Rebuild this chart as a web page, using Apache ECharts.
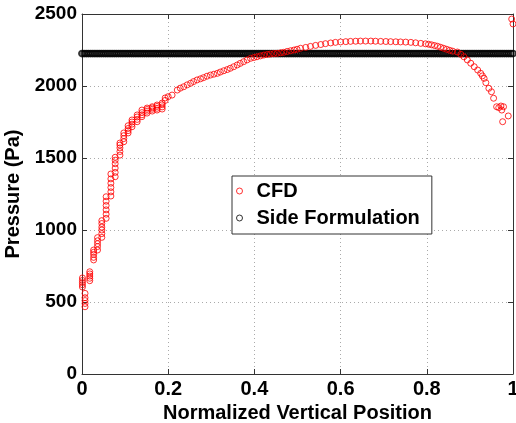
<!DOCTYPE html>
<html>
<head>
<meta charset="utf-8">
<script src="https://cdn.jsdelivr.net/npm/echarts@6/dist/echarts.min.js"></script>
<style>
  html, body { margin: 0; padding: 0; background: #fff; }
  #chart { width: 516px; height: 423px; }
</style>
</head>
<body>
<div id="chart"></div>
<script>
// CFD pressure samples (x = normalized vertical position, p = pressure in Pa)
var cfdX = [
  0.001, 0.001, 0.001, 0.001, 0.001,
  0.007, 0.007, 0.007, 0.007, 0.007,
  0.018, 0.018, 0.018, 0.018, 0.018,
  0.027, 0.027, 0.027, 0.027, 0.027,
  0.036, 0.036, 0.036, 0.036, 0.036,
  0.046, 0.046, 0.046, 0.046, 0.046, 0.046,
  0.056, 0.056, 0.056, 0.056, 0.056, 0.056,
  0.067, 0.067, 0.067, 0.067, 0.067, 0.067,
  0.077, 0.077, 0.077, 0.077, 0.077, 0.077,
  0.088, 0.088, 0.088, 0.088, 0.088,
  0.097, 0.097, 0.097, 0.097,
  0.107, 0.107, 0.107, 0.107,
  0.116, 0.116, 0.116, 0.116,
  0.128, 0.128, 0.128, 0.128,
  0.139, 0.139, 0.139, 0.139,
  0.151, 0.151, 0.151, 0.151,
  0.163, 0.163, 0.163, 0.163,
  0.174, 0.174, 0.174, 0.174,
  0.186, 0.186, 0.186, 0.186,
  0.193, 0.193, 0.200, 0.209,
  0.221, 0.228, 0.236, 0.244, 0.252, 0.259, 0.267, 0.275, 0.282, 0.290,
  0.298, 0.306, 0.314, 0.321, 0.329, 0.337, 0.344, 0.352, 0.360, 0.367,
  0.375, 0.383, 0.391, 0.399, 0.406, 0.414, 0.422, 0.430, 0.437, 0.445,
  0.453, 0.461, 0.468, 0.476, 0.484, 0.492, 0.499, 0.507, 0.519, 0.530,
  0.542, 0.554, 0.565, 0.577, 0.588, 0.600, 0.612, 0.623, 0.635, 0.646,
  0.658, 0.670, 0.681, 0.693, 0.705, 0.716, 0.728, 0.739, 0.751, 0.763,
  0.774, 0.786, 0.797, 0.804, 0.811, 0.818, 0.825, 0.832, 0.839, 0.846,
  0.853, 0.860, 0.871, 0.879, 0.886, 0.894, 0.902, 0.910, 0.918, 0.925,
  0.929, 0.933, 0.937, 0.944, 0.950, 0.955, 0.962, 0.967, 0.972, 0.974,
  0.978, 0.976, 0.989, 0.997, 1.000
];
var cfdP = [
  604, 620, 635, 650, 667,
  467, 490, 510, 530, 560,
  648, 665, 680, 695, 710,
  792, 810, 830, 845, 861,
  861, 885, 905, 925, 947,
  949, 975, 1000, 1020, 1045, 1065,
  1081, 1110, 1140, 1170, 1200, 1231,
  1236, 1265, 1295, 1325, 1355, 1389,
  1370, 1400, 1430, 1460, 1485, 1505,
  1520, 1545, 1570, 1590, 1604,
  1613, 1635, 1655, 1674,
  1674, 1690, 1705, 1724,
  1717, 1735, 1750, 1764,
  1752, 1768, 1785, 1799,
  1787, 1800, 1815, 1833,
  1812, 1825, 1837, 1847,
  1826, 1838, 1848, 1856,
  1833, 1845, 1858, 1868,
  1840, 1855, 1870, 1882,
  1900, 1917, 1926, 1937,
  1972, 1985, 1995, 2008, 2019, 2031, 2042, 2050, 2058, 2068,
  2076, 2082, 2088, 2097, 2106, 2114, 2123, 2134, 2146, 2157,
  2169, 2181, 2192, 2198, 2203, 2209, 2215, 2219, 2222, 2225,
  2227, 2231, 2234, 2240, 2245, 2250, 2255, 2262, 2268, 2275,
  2282, 2288, 2294, 2299, 2303, 2306, 2308, 2310, 2311, 2312,
  2312, 2312, 2311, 2310, 2309, 2308, 2307, 2306, 2305, 2303,
  2300, 2296, 2293, 2290, 2286, 2281, 2276, 2269, 2262, 2255,
  2248, 2242, 2236, 2220, 2203, 2181, 2158, 2134, 2111, 2088,
  2070, 2053, 2023, 1984, 1960, 1915, 1856, 1850, 1861, 1833,
  1856, 1752, 1792, 2465, 2431
];

// Side formulation: constant pressure sampled along the height
var SIDE_P = 2225;
var sideX = [
  0.000, 0.005, 0.010, 0.015, 0.020, 0.025, 0.030, 0.035, 0.040, 0.045,
  0.050, 0.055, 0.060, 0.065, 0.070, 0.075, 0.080, 0.085, 0.090, 0.095,
  0.100, 0.105, 0.110, 0.115, 0.120, 0.125, 0.130, 0.135, 0.140, 0.145,
  0.150, 0.155, 0.160, 0.165, 0.170, 0.175, 0.180, 0.185, 0.190, 0.195,
  0.200, 0.205, 0.210, 0.215, 0.220, 0.225, 0.230, 0.235, 0.240, 0.245,
  0.250, 0.255, 0.260, 0.265, 0.270, 0.275, 0.280, 0.285, 0.290, 0.295,
  0.300, 0.305, 0.310, 0.315, 0.320, 0.325, 0.330, 0.335, 0.340, 0.345,
  0.350, 0.355, 0.360, 0.365, 0.370, 0.375, 0.380, 0.385, 0.390, 0.395,
  0.400, 0.405, 0.410, 0.415, 0.420, 0.425, 0.430, 0.435, 0.440, 0.445,
  0.450, 0.455, 0.460, 0.465, 0.470, 0.475, 0.480, 0.485, 0.490, 0.495,
  0.500, 0.505, 0.510, 0.515, 0.520, 0.525, 0.530, 0.535, 0.540, 0.545,
  0.550, 0.555, 0.560, 0.565, 0.570, 0.575, 0.580, 0.585, 0.590, 0.595,
  0.600, 0.605, 0.610, 0.615, 0.620, 0.625, 0.630, 0.635, 0.640, 0.645,
  0.650, 0.655, 0.660, 0.665, 0.670, 0.675, 0.680, 0.685, 0.690, 0.695,
  0.700, 0.705, 0.710, 0.715, 0.720, 0.725, 0.730, 0.735, 0.740, 0.745,
  0.750, 0.755, 0.760, 0.765, 0.770, 0.775, 0.780, 0.785, 0.790, 0.795,
  0.800, 0.805, 0.810, 0.815, 0.820, 0.825, 0.830, 0.835, 0.840, 0.845,
  0.850, 0.855, 0.860, 0.865, 0.870, 0.875, 0.880, 0.885, 0.890, 0.895,
  0.900, 0.905, 0.910, 0.915, 0.920, 0.925, 0.930, 0.935, 0.940, 0.945,
  0.950, 0.955, 0.960, 0.965, 0.970, 0.975, 0.980, 0.985, 0.990, 0.995,
  1.000
];

var seriesNames = ['CFD', 'Side Formulation'];
var xTicks = { min: 0, max: 1, interval: 0.2 };
var yTicks = { min: 0, max: 2500, interval: 500 };

var myChart = echarts.init(document.getElementById('chart'));

var FONT = 'Liberation Sans';
var FONT_SIZE = 20;
var axisColor = '#333';

var cfdData = cfdX.map(function(x, i) { return [x, cfdP[i]]; });
var sideData = sideX.map(function(x) { return [x, SIDE_P]; });

var option = {
  animation: false,
  backgroundColor: '#fff',
  grid: {
    left: 82,
    right: 3,
    top: 14,
    bottom: 49,
    containLabel: false,
    outerBoundsMode: 'none'
  },
  legend: {
    orient: 'vertical',
    left: 232,
    top: 176,
    padding: [5, 12, 6, 4],
    itemGap: 7,
    itemWidth: 24,
    itemHeight: 6,
    backgroundColor: '#fff',
    borderColor: '#333',
    borderWidth: 1,
    borderRadius: 0,
    textStyle: {
      fontFamily: FONT,
      fontWeight: 'bold',
      fontSize: FONT_SIZE,
      color: '#000'
    },
    data: [
      { name: seriesNames[0], icon: 'circle', itemStyle: { color: 'transparent', borderColor: '#ff0000', borderWidth: 1 } },
      { name: seriesNames[1], icon: 'circle', itemStyle: { color: 'transparent', borderColor: '#000', borderWidth: 1 } }
    ]
  },
  xAxis: [{
    type: 'value',
    min: xTicks.min,
    max: xTicks.max,
    interval: xTicks.interval,
    name: 'Normalized Vertical Position',
    nameLocation: 'middle',
    nameGap: 26,
    nameTextStyle: { fontFamily: FONT, fontWeight: 'bold', fontSize: FONT_SIZE, color: '#000' },
    axisLine: { show: true, lineStyle: { color: axisColor, width: 1 } },
    axisTick: { show: true, inside: true, length: 5, lineStyle: { color: axisColor } },
    axisLabel: { margin: 5, fontFamily: FONT, fontWeight: 'bold', fontSize: FONT_SIZE, color: '#000' },
    splitLine: { show: true, lineStyle: { color: '#aaa', type: [1, 3], width: 1 } }
  }, {
    // top edge of the box
    type: 'value',
    position: 'top',
    min: xTicks.min,
    max: xTicks.max,
    interval: xTicks.interval,
    axisLine: { show: true, onZero: false, lineStyle: { color: axisColor, width: 1 } },
    axisTick: { show: true, inside: true, length: 5, lineStyle: { color: axisColor } },
    axisLabel: { show: false },
    splitLine: { show: false }
  }],
  yAxis: [{
    type: 'value',
    min: yTicks.min,
    max: yTicks.max,
    interval: yTicks.interval,
    name: 'Pressure (Pa)',
    nameLocation: 'middle',
    nameGap: 51,
    nameTextStyle: { fontFamily: FONT, fontWeight: 'bold', fontSize: FONT_SIZE, color: '#000' },
    axisLine: { show: true, lineStyle: { color: axisColor, width: 1 } },
    axisTick: { show: true, inside: true, length: 5, lineStyle: { color: axisColor } },
    axisLabel: {
      margin: 5, fontFamily: FONT, fontWeight: 'bold', fontSize: 19, color: '#000',
      formatter: function(v) { return String(v); }
    },
    splitLine: { show: true, lineStyle: { color: '#aaa', type: [1, 3], width: 1 } }
  }, {
    // right edge of the box
    type: 'value',
    position: 'right',
    min: yTicks.min,
    max: yTicks.max,
    interval: yTicks.interval,
    axisLine: { show: true, onZero: false, lineStyle: { color: axisColor, width: 1 } },
    axisTick: { show: true, inside: true, length: 5, lineStyle: { color: axisColor } },
    axisLabel: { show: false },
    splitLine: { show: false }
  }],
  series: [{
    name: seriesNames[1],
    type: 'scatter',
    symbol: 'circle',
    symbolSize: 6,
    z: 2,
    itemStyle: { color: 'transparent', borderColor: '#000', borderWidth: 1.8 },
    data: sideData
  }, {
    name: seriesNames[0],
    type: 'scatter',
    symbol: 'circle',
    symbolSize: 6,
    z: 3,
    itemStyle: { color: 'transparent', borderColor: '#ff0000', borderWidth: 1 },
    data: cfdData
  }]
};
myChart.setOption(option);
</script>
</body>
</html>
